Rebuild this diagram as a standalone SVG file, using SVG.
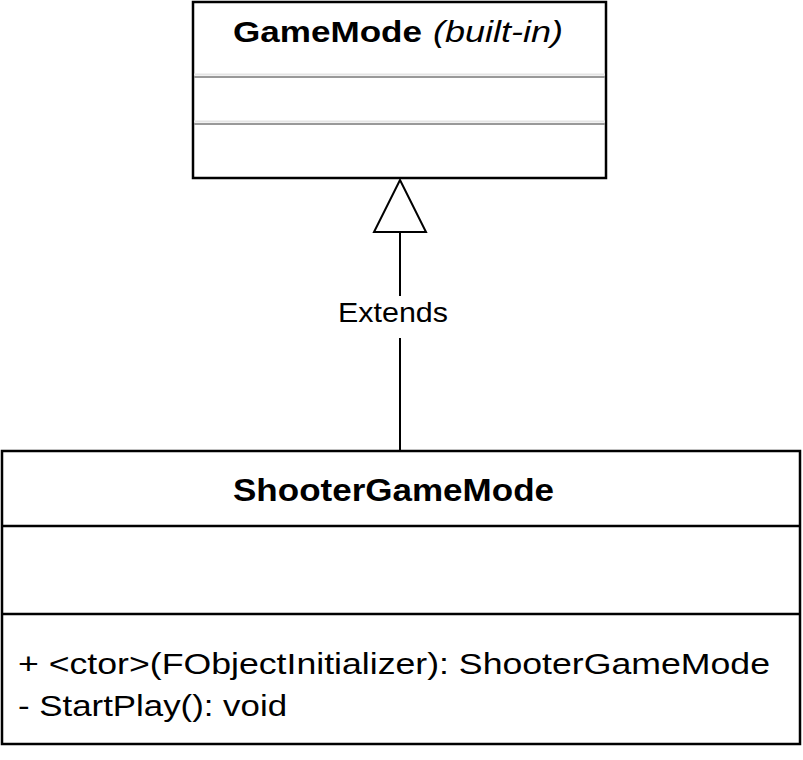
<svg xmlns="http://www.w3.org/2000/svg" width="803" height="760" viewBox="0 0 803 760">
<defs>
<style>
.box{fill:#ffffff;stroke:#000000;stroke-width:2.5}
.sep{stroke:#000000;stroke-width:2.5}
.gsep{stroke:#999999;stroke-width:2}
.ghalo{stroke:#e4e4e4;stroke-width:2}
.t{font-family:"Liberation Sans",Arial,Helvetica,sans-serif;fill:#000000}
.b{font-weight:bold}
.i{font-style:italic}
.edge{stroke:#000000;stroke-width:2;fill:none}
</style>
<marker id="inherit" markerWidth="30" markerHeight="30" viewBox="0 0 30 30" refX="29" refY="15" orient="auto" markerUnits="userSpaceOnUse">
<path d="M2,2 L29,15 L2,28 Z" fill="#ffffff" stroke="#000000" stroke-width="2"/>
</marker>
</defs>
<rect width="803" height="760" fill="#ffffff"/>
<g id="connectors">
<line class="edge" x1="400" y1="451" x2="400" y2="338"/>
<line class="edge" x1="400" y1="296" x2="400" y2="232"/>
<path d="M400,180 L426,232 L374,232 Z" fill="#ffffff" stroke="#000000" stroke-width="2"/>
<text class="t" x="338" y="322" font-size="28" textLength="110" lengthAdjust="spacingAndGlyphs">Extends</text>
</g>
<g id="GameMode">
<rect class="box" x="193" y="2" width="413" height="176"/>
<line class="ghalo" x1="194" y1="74.5" x2="605" y2="74.5"/>
<line class="gsep" x1="194" y1="77" x2="605" y2="77"/>
<line class="ghalo" x1="194" y1="121.5" x2="605" y2="121.5"/>
<line class="gsep" x1="194" y1="124" x2="605" y2="124"/>
<text class="t" y="42" font-size="30"><tspan class="b" x="233" textLength="189" lengthAdjust="spacingAndGlyphs">GameMode</tspan><tspan class="i" x="433" textLength="130" lengthAdjust="spacingAndGlyphs">(built-in)</tspan></text>
</g>
<g id="ShooterGameMode">
<rect class="box" x="2" y="451" width="798" height="293"/>
<line class="sep" x1="2" y1="526" x2="800" y2="526"/>
<line class="sep" x1="2" y1="614" x2="800" y2="614"/>
<text class="t b" x="233" y="501" font-size="32" textLength="321" lengthAdjust="spacingAndGlyphs">ShooterGameMode</text>
<text class="t" x="18" y="674" font-size="29" textLength="752" lengthAdjust="spacingAndGlyphs">+ &lt;ctor&gt;(FObjectInitializer): ShooterGameMode</text>
<text class="t" x="18" y="716" font-size="29" textLength="269" lengthAdjust="spacingAndGlyphs">- StartPlay(): void</text>
</g>
</svg>
